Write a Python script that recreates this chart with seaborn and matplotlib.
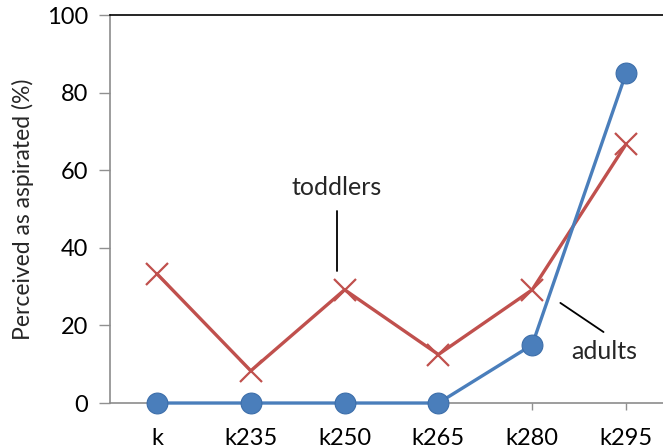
import matplotlib
matplotlib.use("Agg")
import matplotlib.pyplot as plt
import seaborn as sns
import pandas as pd

stimuli = ["k", "k235", "k250", "k265", "k280", "k295"]
adults = [0, 0, 0, 0, 15, 85]
toddlers = [33.3, 8.3, 29.2, 12.5, 29.2, 66.7]
y_ticks = [0, 20, 40, 60, 80, 100]

sns.set_theme(style="white")
plt.rcParams["font.family"] = ["Lato", "DejaVu Sans"]

df = pd.DataFrame({
    "stimulus": stimuli * 2,
    "pos": list(range(len(stimuli))) * 2,
    "pct": toddlers + adults,
    "group": ["toddlers"] * len(stimuli) + ["adults"] * len(stimuli),
})

fig = plt.figure(figsize=(6.63, 4.48), dpi=100)
ax = fig.add_axes([0.166, 0.1004, 0.849, 0.8661])

blue = "#4A7EBB"
red = "#C0504D"

sns.lineplot(data=df[df.group == "toddlers"], x="pos", y="pct", ax=ax,
             color=red, linewidth=2.4, marker="x", markersize=16,
             markeredgewidth=1.6, markeredgecolor=red, zorder=3)
sns.lineplot(data=df[df.group == "adults"], x="pos", y="pct", ax=ax,
             color=blue, linewidth=2.4, marker="o", markersize=15,
             markeredgewidth=0.8, markeredgecolor="#3C6EAA", zorder=4,
             clip_on=False)

ax.set_xlim(-0.5, 5.5)
ax.set_ylim(0, 100)
ax.set_xticks(range(len(stimuli)))
ax.set_xticklabels(stimuli)
ax.set_yticks(y_ticks)
ax.set_xlabel("")
ax.set_ylabel("Perceived as aspirated (%)", fontsize=16.5, labelpad=9)
ax.tick_params(axis="both", labelsize=17, width=1, color="#909090",
               direction="out", bottom=True, left=True, colors="black")
ax.tick_params(axis="x", length=5, pad=13)
ax.tick_params(axis="y", length=8, pad=8)
for t in ax.get_xticklines() + ax.get_yticklines():
    t.set_color("#909090")

for side in ["left", "bottom"]:
    ax.spines[side].set_color("#8C8C8C")
    ax.spines[side].set_linewidth(1.2)
ax.spines["top"].set_color("black")
ax.spines["top"].set_linewidth(1.2)
ax.spines["right"].set_visible(False)

# callout labels
ax.text(1.915, 55.5, "toddlers", fontsize=18, ha="center", va="center")
ax.plot([1.915, 1.915], [49.5, 34], color="black", lw=1.3)
ax.text(4.77, 13.4, "adults", fontsize=18, ha="center", va="center")
ax.plot([4.3, 4.76], [25.8, 18.3], color="black", lw=1.3)

fig.savefig("out.png", dpi=100)
